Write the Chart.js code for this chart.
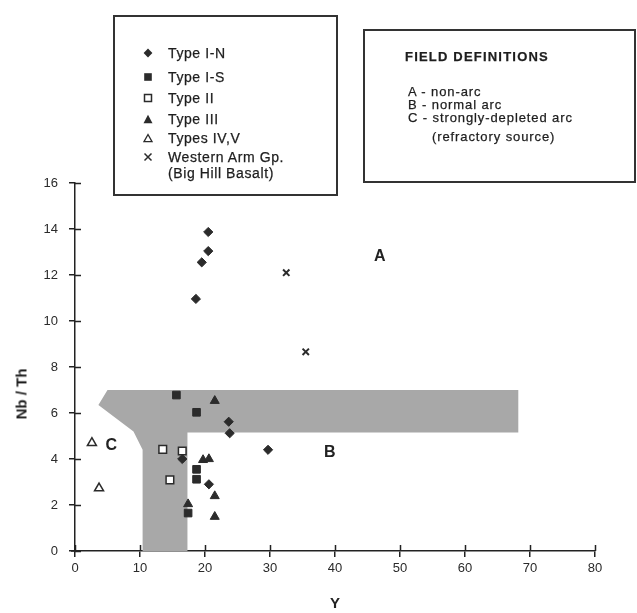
<!DOCTYPE html>
<html>
<head>
<meta charset="utf-8">
<script src="https://cdn.jsdelivr.net/npm/chart.js@4.4.1/dist/chart.umd.min.js"></script>
<style>
  html, body { margin: 0; padding: 0; background: #fff; }
  #wrap { position: relative; width: 637px; height: 613px; overflow: hidden; font-family: "Liberation Sans", Arial, sans-serif; color: #1e1e1e; }
  canvas { position: absolute; left: 0; top: 0; }
  .box { position: absolute; border: 2px solid #333; box-sizing: border-box; background: transparent; }
  .row { position: absolute; white-space: nowrap; font-size: 14px; line-height: 14px; letter-spacing: 0.6px; transform: translateY(-50%); -webkit-text-stroke: 0.25px #1e1e1e; }
  .fd { font-size: 13px; line-height: 13px; letter-spacing: 0.9px; }
  .mk { position: absolute; transform: translate(-50%, -50%); }
  .ytitle { position: absolute; font-weight: bold; font-size: 15px; white-space: nowrap; transform: translate(-50%, -50%) rotate(-90deg); }
</style>
</head>
<body>
<div id="wrap">
  <canvas id="c" width="637" height="613"></canvas>

  <div class="box" style="left:113px; top:15px; width:225px; height:181px;"></div>
  <svg class="mk" style="left:148px; top:53px" width="10" height="10"><polygon points="5,0.6 9.4,5 5,9.4 0.6,5" fill="#2b2b2b"/></svg>
  <div class="row" style="left:168px; top:53px">Type I-N</div>
  <svg class="mk" style="left:148px; top:77px" width="10" height="10"><rect x="1.2" y="1.2" width="7.6" height="7.6" fill="#2b2b2b"/></svg>
  <div class="row" style="left:168px; top:77px">Type I-S</div>
  <svg class="mk" style="left:148px; top:98px" width="10" height="10"><rect x="1.5" y="1.5" width="7" height="7" fill="#fff" stroke="#2b2b2b" stroke-width="1.5"/></svg>
  <div class="row" style="left:168px; top:98px">Type II</div>
  <svg class="mk" style="left:148px; top:119px" width="10" height="10"><polygon points="5,0.8 9.5,9.2 0.5,9.2" fill="#2b2b2b"/></svg>
  <div class="row" style="left:168px; top:119px">Type III</div>
  <svg class="mk" style="left:148px; top:138px" width="10" height="10"><polygon points="5,1.5 9,8.6 1,8.6" fill="#fff" stroke="#2b2b2b" stroke-width="1.3"/></svg>
  <div class="row" style="left:168px; top:138px">Types IV,V</div>
  <svg class="mk" style="left:148px; top:157px" width="10" height="10"><path d="M1.5,1.5 L8.5,8.5 M8.5,1.5 L1.5,8.5" stroke="#2b2b2b" stroke-width="1.5"/></svg>
  <div class="row" style="left:168px; top:157px">Western Arm Gp.</div>
  <div class="row" style="left:168px; top:173px">(Big Hill Basalt)</div>

  <div class="box" style="left:363px; top:29px; width:273px; height:154px;"></div>
  <div class="row" style="left:405px; top:57px; font-weight:bold; font-size:13px; letter-spacing:1.2px;">FIELD DEFINITIONS</div>
  <div class="row fd" style="left:408px; top:91px">A - non-arc</div>
  <div class="row fd" style="left:408px; top:104px">B - normal arc</div>
  <div class="row fd" style="left:408px; top:117px">C - strongly-depleted arc</div>
  <div class="row fd" style="left:432px; top:136px">(refractory source)</div>

  <div class="ytitle" style="left:21px; top:394px;">Nb / Th</div>
</div>

<script>
// ---- Data ----
const typeIN_x  = [20.5, 20.5, 19.5, 18.6, 23.65, 23.8, 20.6, 29.7, 16.5];
const typeIN_y  = [13.87, 13.04, 12.55, 10.96, 5.62, 5.12, 2.9, 4.4, 4.0];

const typeIS_x  = [15.6, 18.7, 18.7, 18.7, 17.4];
const typeIS_y  = [6.78, 6.03, 3.55, 3.12, 1.65];

const typeII_x  = [13.5, 16.5, 14.6];
const typeII_y  = [4.42, 4.35, 3.09];

const typeIII_x = [21.5, 19.7, 20.6, 21.5, 21.5, 17.4];
const typeIII_y = [6.53, 3.96, 4.0, 2.39, 1.49, 2.04];

const typeIVV_x = [2.6, 3.7];
const typeIVV_y = [4.7, 2.73];

const western_x = [32.5, 35.5];
const western_y = [12.1, 8.66];

// Shaded field boundary (field B/C envelope)
const field_x = [5.0, 3.6, 9.0, 10.4, 10.4, 17.3, 17.3, 68.2, 68.2, 5.0];
const field_y = [7.0, 6.35, 5.2, 4.4, 0, 0, 5.15, 5.15, 7.0, 7.0];

// Field letters
const fieldLabels = ['A', 'B', 'C'];
const fieldLabel_x = [46.9, 39.2, 5.6];
const fieldLabel_y = [12.8, 4.3, 4.6];

// Axis ticks
const xTicks = [0, 10, 20, 30, 40, 50, 60, 70, 80];
const yTicks = [0, 2, 4, 6, 8, 10, 12, 14, 16];

const pts = (xs, ys) => xs.map((x, i) => ({ x: x, y: ys[i] }));
const INK = '#2b2b2b';

const innerTicks = {
  id: 'innerTicks',
  afterDraw(chart) {
    const { ctx, scales: { x, y } } = chart;
    ctx.save();
    ctx.strokeStyle = '#222';
    ctx.lineWidth = 1.5;
    const x0 = x.getPixelForValue(0), y0 = y.getPixelForValue(0);
    ctx.beginPath();
    yTicks.forEach(v => { const py = Math.round(y.getPixelForValue(v)) + 0.5; ctx.moveTo(x0, py); ctx.lineTo(x0 + 6, py); });
    xTicks.forEach(v => { const px = Math.round(x.getPixelForValue(v)) + 0.5; ctx.moveTo(px, y0); ctx.lineTo(px, y0 - 6); });
    ctx.moveTo(x0 - 4, y0); ctx.lineTo(x0, y0);
    ctx.stroke();
    ctx.restore();
  }
};

const fieldText = {
  id: 'fieldText',
  afterDatasetsDraw(chart) {
    const { ctx, scales: { x, y } } = chart;
    ctx.save();
    ctx.fillStyle = '#222';
    ctx.font = 'bold 16px "Liberation Sans", Arial, sans-serif';
    ctx.textAlign = 'center';
    ctx.textBaseline = 'middle';
    fieldLabels.forEach((t, i) => ctx.fillText(t, x.getPixelForValue(fieldLabel_x[i]), y.getPixelForValue(fieldLabel_y[i])));
    ctx.restore();
  }
};

new Chart(document.getElementById('c'), {
  type: 'scatter',
  data: {
    datasets: [
      { label: 'Type I-N', data: pts(typeIN_x, typeIN_y), pointStyle: 'rectRot', pointRadius: 4.6,
        backgroundColor: INK, borderColor: INK, borderWidth: 1, order: 1 },
      { label: 'Type I-S', data: pts(typeIS_x, typeIS_y), pointStyle: 'rect', pointRadius: 5.4,
        backgroundColor: INK, borderColor: INK, borderWidth: 1, order: 2 },
      { label: 'Type II', data: pts(typeII_x, typeII_y), pointStyle: 'rect', pointRadius: 5.4,
        backgroundColor: '#fff', borderColor: INK, borderWidth: 1.5, order: 3 },
      { label: 'Type III', data: pts(typeIII_x, typeIII_y), pointStyle: 'triangle', pointRadius: 5.2,
        backgroundColor: INK, borderColor: INK, borderWidth: 1, order: 2 },
      { label: 'Types IV,V', data: pts(typeIVV_x, typeIVV_y), pointStyle: 'triangle', pointRadius: 5.2,
        backgroundColor: '#fff', borderColor: INK, borderWidth: 1.5, order: 3 },
      { label: 'Western Arm Gp. (Big Hill Basalt)', data: pts(western_x, western_y), pointStyle: 'crossRot', pointRadius: 4.5,
        backgroundColor: INK, borderColor: INK, borderWidth: 2, order: 1 },
      { type: 'line', label: 'Field', data: pts(field_x, field_y), fill: 'shape',
        backgroundColor: '#a8a8a8', borderColor: 'rgba(0,0,0,0)', borderWidth: 0,
        pointRadius: 0, tension: 0, order: 100 }
    ]
  },
  options: {
    responsive: false,
    animation: false,
    devicePixelRatio: 1,
    layout: { padding: { top: 183, right: 42, left: 0, bottom: 0 } },
    plugins: { legend: { display: false }, tooltip: { enabled: false } },
    scales: {
      x: {
        type: 'linear', min: 0, max: 80,
        afterFit: s => { s.height = 62; },
        afterBuildTicks: s => { s.ticks = xTicks.map(v => ({ value: v })); },
        ticks: { color: '#2a2a2a', font: { family: '"Liberation Sans", Arial, sans-serif', size: 13 }, padding: 4 },
        grid: { drawOnChartArea: false, drawTicks: true, tickLength: 6, color: '#222', lineWidth: 1.5 },
        border: { color: '#222', width: 1.5 },
        title: { display: true, text: 'Y', color: '#222', font: { family: '"Liberation Sans", Arial, sans-serif', size: 15, weight: 'bold' }, padding: 0 }
      },
      y: {
        type: 'linear', min: 0, max: 16,
        afterFit: s => { s.width = 75; },
        afterBuildTicks: s => { s.ticks = yTicks.map(v => ({ value: v })); },
        ticks: { color: '#2a2a2a', font: { family: '"Liberation Sans", Arial, sans-serif', size: 13 }, padding: 11 },
        grid: { drawOnChartArea: false, drawTicks: true, tickLength: 6, color: '#222', lineWidth: 1.5 },
        border: { color: '#222', width: 1.5 }
      }
    }
  },
  plugins: [innerTicks, fieldText]
});
</script>
</body>
</html>
